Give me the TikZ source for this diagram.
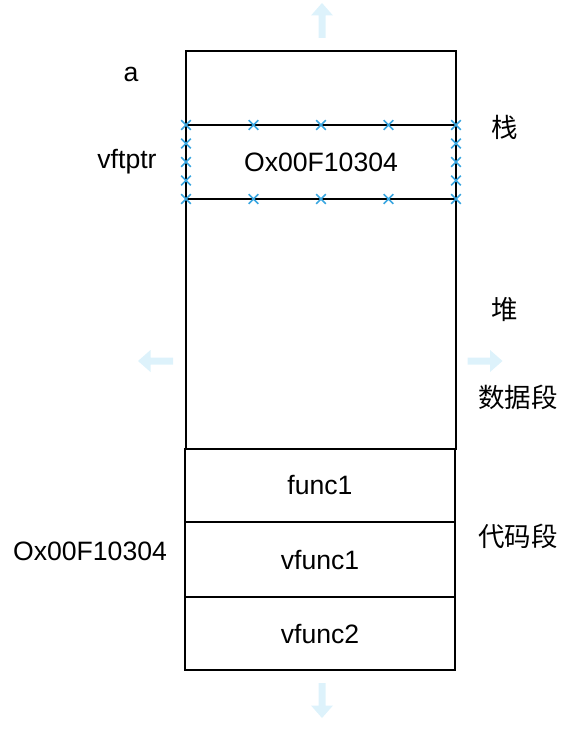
\documentclass[tikz,border=0pt]{standalone}
\usepackage{fontspec}
\setmainfont{Liberation Sans}
\newfontfamily\cjk{Noto Sans CJK SC}
\usetikzlibrary{shapes.misc,calc}
\definecolor{arrowblue}{HTML}{DDF2FB}
\definecolor{handleblue}{HTML}{3AA6E0}
\begin{document}
\begin{tikzpicture}[x=1pt,y=-1pt,
  cell/.style={draw=black,line width=2pt,minimum width=270pt,inner sep=0pt,outer sep=0pt,anchor=north west,font=\fontsize{26.6}{30}\selectfont},
  lbl/.style={font=\fontsize{26.6}{30}\selectfont,inner sep=0pt},
  zh/.style={font=\cjk\fontsize{26.5}{30}\selectfont,inner sep=0pt},
  handle/.style={cross out,draw=handleblue,line width=1.6pt,minimum size=8pt,inner sep=0pt},
  movearrow/.pic={\fill[arrowblue] (-17.5,-3.5) -- (5,-3.5) -- (5,-11) -- (17.5,0) -- (5,11) -- (5,3.5) -- (-17.5,3.5) -- cycle;}]
\useasboundingbox (0,0) rectangle (569,749);
% boxes
\node[cell,minimum height=398pt] (outer) at (186,51) {};
\node[cell,minimum height=74pt] (vptr) at (186,125) {Ox00F10304};
\node[cell,minimum height=73pt] (f1) at (185,449) {func1};
\node[cell,minimum height=75pt] (vf1) at (185,522) {vfunc1};
\node[cell,minimum height=73pt] (vf2) at (185,597) {vfunc2};
% selection handles
\foreach \f [count=\i] in {0,0.25,0.5,0.75,1}{
  \node[handle] (ht\i) at ($(vptr.north west)!\f!(vptr.north east)$) {};
  \node[handle] (hb\i) at ($(vptr.south west)!\f!(vptr.south east)$) {};
}
\foreach \f [count=\i] in {0.25,0.5,0.75}{
  \node[handle] (hl\i) at ($(vptr.north west)!\f!(vptr.south west)$) {};
  \node[handle] (hr\i) at ($(vptr.north east)!\f!(vptr.south east)$) {};
}
% move arrows
\pic[rotate=90] at (322,20.5) {movearrow};
\pic[rotate=-90] at (322,700.5) {movearrow};
\pic[rotate=180] at (155.5,361) {movearrow};
\pic at (485,361) {movearrow};
% labels
\node[lbl] (la) at (131,74) {a};
\node[lbl] (lv) at (127,162) {vftptr};
\node[lbl] (laddr) at (90,551) {Ox00F10304};
\node[zh] (z1) at (505,127) {栈};
\node[zh] (z2) at (505,310) {堆};
\node[zh] (z3) at (518,397) {数据段};
\node[zh] (z4) at (518,536) {代码段};
\end{tikzpicture}
\end{document}
